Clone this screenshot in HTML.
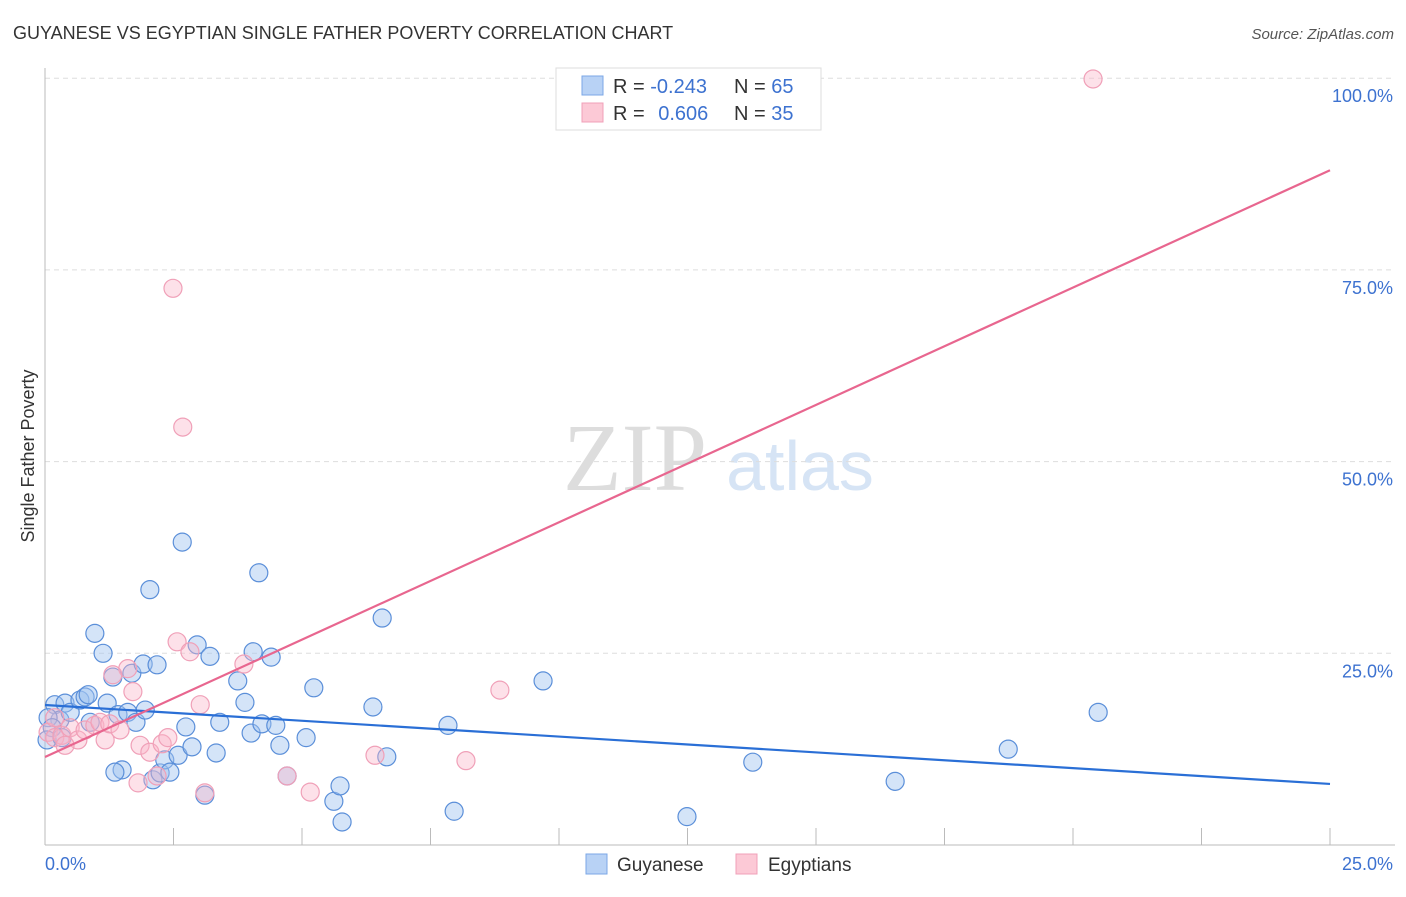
<!DOCTYPE html>
<html><head><meta charset="utf-8"><style>
body{margin:0;background:#fff;font-family:"Liberation Sans",sans-serif}
</style></head><body>
<svg id="chart" width="1406" height="892" xmlns="http://www.w3.org/2000/svg">
<text x="13" y="39" font-size="18" fill="#333" font-family="Liberation Sans">GUYANESE VS EGYPTIAN SINGLE FATHER POVERTY CORRELATION CHART</text>
<text x="1394" y="39" font-size="15" fill="#555" font-style="italic" text-anchor="end">Source: ZipAtlas.com</text>
<g>
<text x="635" y="490" font-size="96" fill="#ddd" font-family="Liberation Serif" text-anchor="middle">ZIP</text>
<text x="800" y="490" font-size="70" fill="#d6e4f5" text-anchor="middle">atlas</text>
</g>
<g id="grid"></g>
<g id="axes"></g>
<g id="marks"></g>
<text transform="translate(34,456) rotate(-90)" font-size="18" fill="#333" text-anchor="middle">Single Father Poverty</text>
<g>
<rect x="556" y="68" width="265" height="62" fill="#fff" stroke="#ddd"/>
<rect x="582" y="76" width="21" height="19" fill="#b8d2f5" stroke="#7ba7e6"/>
<rect x="582" y="103" width="21" height="19" fill="#fcc9d6" stroke="#f0a0b8"/>
<text x="613" y="93" font-size="20" fill="#333">R = <tspan fill="#3d72d0">-0.243</tspan></text>
<text x="734" y="93" font-size="20" fill="#333">N = <tspan fill="#3d72d0">65</tspan></text>
<text x="613" y="120" font-size="20" fill="#333">R = <tspan fill="#3d72d0" dx="8">0.606</tspan></text>
<text x="734" y="120" font-size="20" fill="#333">N = <tspan fill="#3d72d0">35</tspan></text>
</g>
<g>
<rect x="586" y="854" width="21" height="20" fill="#b8d2f5" stroke="#7ba7e6"/>
<text x="617" y="871" font-size="19" fill="#333">Guyanese</text>
<rect x="736" y="854" width="21" height="20" fill="#fcc9d6" stroke="#f0a0b8"/>
<text x="768" y="871" font-size="19" fill="#333">Egyptians</text>
</g>
</svg>
<script>
const yTicks=[25,50,75,100];
const yTickLabels=["25.0%","50.0%","75.0%","100.0%"];
const xTicks=[0,2.5,5,7.5,10,12.5,15,17.5,20,22.5,25];
const guyX=[0.19,0.39,0.29,0.49,0.68,0.78,0.84,0.97,1.13,1.21,1.32,1.42,1.50,1.36,1.61,1.69,1.77,1.91,1.95,2.04,2.18,2.10,2.24,2.33,2.43,2.59,2.67,2.74,2.86,2.96,3.21,3.33,3.40,3.75,3.89,4.01,4.05,4.16,4.22,4.40,4.49,4.57,4.71,5.08,5.23,5.62,5.74,5.78,6.38,6.56,6.65,7.84,7.96,9.69,12.49,13.77,16.54,18.74,20.49,3.11,0.06,0.14,0.04,0.33,0.88];
const guyY=[18.3,18.5,16.3,17.3,18.9,19.3,19.6,27.6,25.0,18.5,21.9,17.0,9.8,9.5,17.3,22.4,16.0,23.6,17.6,33.3,23.5,8.5,9.4,11.1,9.5,11.7,39.5,15.4,12.8,26.1,24.6,12.0,16.0,21.4,18.6,14.6,25.2,35.5,15.8,24.5,15.6,13.0,9.0,14.0,20.5,5.7,7.7,3.0,18.0,29.6,11.5,15.6,4.4,21.4,3.7,10.8,8.3,12.5,17.3,6.5,16.6,15.3,13.7,14.0,16.0];
const egyX=[20.39,2.49,2.68,2.57,2.82,3.87,1.61,1.71,1.32,3.02,1.85,2.04,2.28,2.39,1.81,2.18,3.11,4.71,5.16,6.42,8.19,8.85,0.06,0.19,0.33,0.49,0.64,0.78,0.97,1.07,1.17,1.26,1.46,0.19,0.39];
const egyY=[99.9,72.6,54.5,26.5,25.2,23.6,23.0,20.0,22.2,18.3,13.0,12.1,13.2,14.0,8.1,9.0,6.8,9.0,6.9,11.7,11.0,20.2,14.7,14.0,14.3,15.3,13.7,15.0,15.6,16.0,13.7,15.8,15.0,16.6,13.0];
const guyTrend=[18.26,7.96];
const egyTrend=[11.48,88.0];
const NS="http://www.w3.org/2000/svg";
const X=v=>45+v/25*1285, Y=v=>845-v*7.668;
function mk(tag,attrs,parent){const e=document.createElementNS(NS,tag);for(const k in attrs)e.setAttribute(k,attrs[k]);document.getElementById(parent).appendChild(e);return e;}
yTicks.forEach((t,i)=>{
 const g=mk('line',{x1:45,x2:1395,y1:Y(t),y2:Y(t),stroke:'#ddd','stroke-dasharray':'5,4'},'grid');
 
 
 const l=mk('text',{x:1393,y:Y(t)+24,'font-size':18,fill:'#3d72d0','text-anchor':'end'},'axes');
 l.textContent=yTickLabels[i];
 
 
});
let a=mk('line',{x1:45,x2:45,y1:68,y2:845,stroke:'#bbb'},'axes');


a=mk('line',{x1:45,x2:1395,y1:845,y2:845,stroke:'#bbb'},'axes');


xTicks.forEach(t=>{const k=mk('line',{x1:X(t),x2:X(t),y1:828,y2:845,stroke:'#bbb'},'axes');
 
 });
let t0=mk('text',{x:45,y:870,'font-size':18,fill:'#3d72d0'},'axes');t0.textContent='0.0%';


t0=mk('text',{x:1393,y:870,'font-size':18,fill:'#3d72d0','text-anchor':'end'},'axes');t0.textContent='25.0%';


guyX.forEach((v,i)=>{const c=mk('circle',{cx:X(v),cy:Y(guyY[i]),r:9,fill:'rgba(160,195,240,0.45)',stroke:'#5b8fd9','stroke-width':1.2},'marks');
 
 });
egyX.forEach((v,i)=>{const c=mk('circle',{cx:X(v),cy:Y(egyY[i]),r:9,fill:'rgba(250,180,200,0.4)',stroke:'#f0a0b8','stroke-width':1.2},'marks');
 
 });
let tl=mk('line',{x1:X(0),y1:Y(guyTrend[0]),x2:X(25),y2:Y(guyTrend[1]),stroke:'#2a6fd6','stroke-width':2.2},'marks');


tl=mk('line',{x1:X(0),y1:Y(egyTrend[0]),x2:X(25),y2:Y(egyTrend[1]),stroke:'#e8668f','stroke-width':2.2},'marks');


</script>
</body></html>
